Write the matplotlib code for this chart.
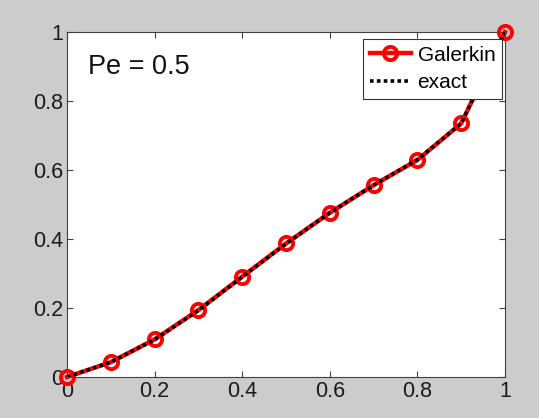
import matplotlib.pyplot as plt

plt.rcParams['font.family'] = ['Liberation Sans', 'DejaVu Sans']

# nodal values of the Galerkin solution and the exact solution at the same nodes
x = [0.0, 0.1, 0.2, 0.3, 0.4, 0.5, 0.6, 0.7, 0.8, 0.9, 1.0]
galerkin = [0.0, 0.043, 0.109, 0.194, 0.291, 0.387, 0.476, 0.556, 0.629, 0.735, 1.0]
exact = [0.0, 0.043, 0.108, 0.193, 0.290, 0.386, 0.476, 0.556, 0.630, 0.735, 1.0]
ticks = [0, 0.2, 0.4, 0.6, 0.8, 1]
tick_labels = ['0', '0.2', '0.4', '0.6', '0.8', '1']

fig = plt.figure(figsize=(5.39, 4.18), dpi=100, facecolor='#cccccc')
ax = fig.add_axes([67/539, 1 - 377/418, 438/539, 345/418])

ax.plot(x, galerkin, color='red', linewidth=3.2, marker='o', markersize=9.5,
        markerfacecolor='none', markeredgecolor='red', markeredgewidth=2.8,
        label='Galerkin', clip_on=False, zorder=3)
ax.plot(x, exact, color='black', linewidth=2.6, linestyle=(0, (1, 0.9)),
        label='exact', zorder=4)

ax.set_xlim(0, 1)
ax.set_ylim(0, 1)
ax.set_xticks(ticks)
ax.set_xticklabels(tick_labels)
ax.set_yticks(ticks)
ax.set_yticklabels(tick_labels)
ax.tick_params(direction='in', top=True, right=True, length=4, width=0.8,
               colors='#404040', labelcolor='#1a1a1a', labelsize=15.5, pad=3)
for s in ax.spines.values():
    s.set_color('#404040')
    s.set_linewidth(0.8)

ax.text(0.048, 0.9, 'Pe = 0.5', transform=ax.transAxes, fontsize=19.5,
        color='#111111', va='center', ha='left')

leg = ax.legend(loc='upper right', bbox_to_anchor=(0.993, 0.98), fontsize=15,
                frameon=True, fancybox=False, framealpha=1, edgecolor='#333333',
                borderpad=0.32, handlelength=2.0, handletextpad=0.3,
                labelspacing=0.4, borderaxespad=0.0)
leg.get_frame().set_linewidth(0.8)
leg.set_zorder(5)

fig.savefig('out.png', dpi=100, facecolor=fig.get_facecolor())
